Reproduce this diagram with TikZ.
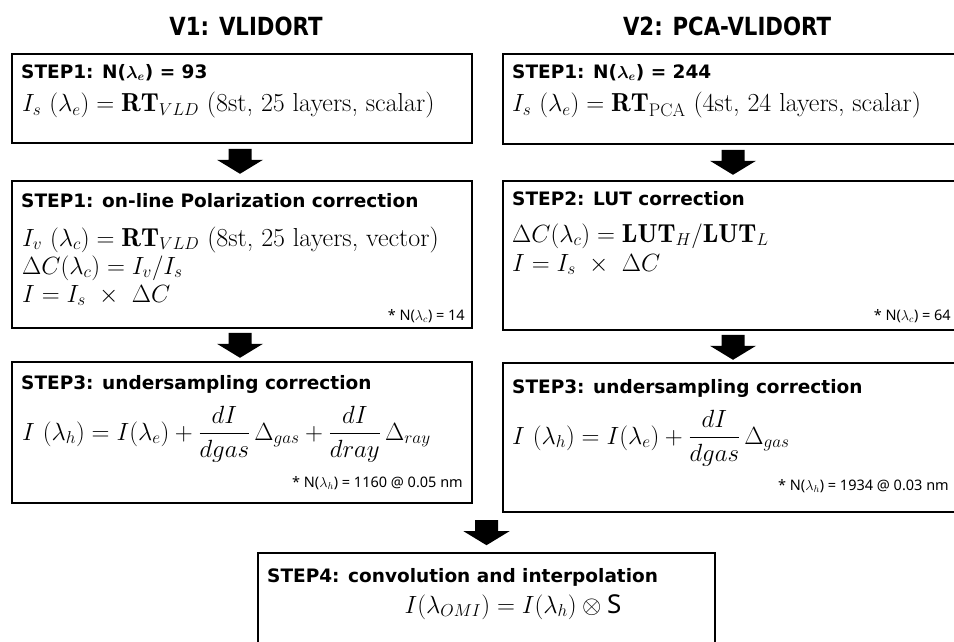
\documentclass[tikz,border=0pt]{standalone}
\usepackage{fontspec}
\usepackage{amsmath}
\newfontfamily\hdfont{Noto Sans}
\newfontfamily\ttlfont{DejaVu Sans}
\usetikzlibrary{calc}

% block arrow pointing down, top centre at #1
\newcommand\downblock[1]{%
  \fill (#1) ++(-11.5,0) -- ++(23,0) -- ++(0,11) -- ++(11.5,0)
        -- ++(-23,14) -- ++(-23,-14) -- ++(11.5,0) -- cycle;}

\tikzset{
  stepbox/.style={draw=black, line width=1.6pt, rectangle, inner sep=0pt,
                  minimum width=460pt},
  colhead/.style={font=\ttlfont\bfseries\fontsize{25}{30}\selectfont, inner sep=0pt, xscale=0.85},
  ttl/.style={font=\ttlfont\bfseries\fontsize{18.5}{22}\selectfont, inner sep=0pt, anchor=base west},
  eqn/.style={font=\fontsize{26}{30}\selectfont, inner sep=0pt, anchor=base west},
  note/.style={font=\hdfont\fontsize{14.5}{18}\selectfont, inner sep=0pt, anchor=base east},
}

\begin{document}
\begin{tikzpicture}[x=1pt, y=-1pt]
\useasboundingbox (0,0) rectangle (954,642);
\clip (0,0) rectangle (954,642);

% column headings
\node[colhead] (h1) at (246,26) {V1: VLIDORT};
\node[colhead] (h2) at (727,26) {V2: PCA-VLIDORT};

% ---- V1 column
\node[stepbox, minimum height=89pt]  (L1) at (242,98.5) {};
\node[stepbox, minimum height=147pt] (L2) at (242,254.5) {};
\node[stepbox, minimum height=141pt] (L3) at (242,432.5) {};

\node[ttl] (L1t) at (21,78) {STEP1: N({\boldmath$\lambda_e$}) = 93};
\node[eqn] (L1e) at (22,112) {$I_s\ (\lambda_e) = \mathbf{RT}_{VLD}$ (8st, 25 layers, scalar)};

\node[ttl] (L2t) at (21,207) {STEP1: on-line Polarization correction};
\node[eqn] (L2e1) at (22,246) {$I_v\ (\lambda_c) = \mathbf{RT}_{VLD}$ (8st, 25 layers, vector)};
\node[eqn] (L2e2) at (22,274) {$\Delta C(\lambda_c) = I_v/I_s$};
\node[eqn] (L2e3) at (22,302) {$I = I_s\ \times\ \Delta C$};
\node[note] (L2n) at (465,320) {* N($\lambda_c$) = 14};

\node[ttl] (L3t) at (21,389) {STEP3: undersampling correction};
\node[eqn] (L3e) at (22,440) {$\displaystyle I\ (\lambda_h) = I(\lambda_e) + \frac{dI}{dgas}\,\Delta_{gas} + \frac{dI}{dray}\,\Delta_{ray}$};
\node[note] (L3n) at (463,487) {* N($\lambda_h$) = 1160 @ 0.05 nm};

% ---- V2 column
\node[stepbox, minimum height=90pt]  (R1) at (733,99) {};
\node[stepbox, minimum height=149pt] (R2) at (733,255.5) {};
\node[stepbox, minimum height=149pt] (R3) at (733,437.5) {};

\node[ttl] (R1t) at (512,78) {STEP1: N({\boldmath$\lambda_e$}) = 244};
\node[eqn] (R1e) at (512,112) {$I_s\ (\lambda_e) = \mathbf{RT}_{\mathrm{PCA}}$ (4st, 24 layers, scalar)};

\node[ttl] (R2t) at (512,205) {STEP2: LUT correction};
\node[eqn] (R2e1) at (512,242) {$\Delta C(\lambda_c) = \mathbf{LUT}_H/\mathbf{LUT}_L$};
\node[eqn] (R2e2) at (512,271) {$I = I_s\ \times\ \Delta C$};
\node[note] (R2n) at (951,320) {* N($\lambda_c$) = 64};

\node[ttl] (R3t) at (512,393) {STEP3: undersampling correction};
\node[eqn] (R3e) at (512,444) {$\displaystyle I\ (\lambda_h) = I(\lambda_e) + \frac{dI}{dgas}\,\Delta_{gas}$};
\node[note] (R3n) at (949,490) {* N($\lambda_h$) = 1934 @ 0.03 nm};

% ---- final step
\node[stepbox, minimum width=457pt, minimum height=130pt] (B) at (486.5,618) {};
\node[ttl] (Bt) at (267,582) {STEP4: convolution and interpolation};
\node[eqn, anchor=base] (Be) at (513,613) {$I(\lambda_{OMI}) = I(\lambda_h) \otimes \text{\hdfont S}$};

% ---- block arrows between steps
\coordinate (a1) at ($(L1.south)+(-2,5)$);
\coordinate (a2) at ($(L2.south)+(-2,4)$);
\coordinate (a3) at ($(R1.south)+(0,5)$);
\coordinate (a4) at ($(R2.south)+(0,4)$);
\coordinate (a5) at ($(B.north)+(0,-32)$);
\downblock{a1}
\downblock{a2}
\downblock{a3}
\downblock{a4}
\downblock{a5}
\end{tikzpicture}
\end{document}
